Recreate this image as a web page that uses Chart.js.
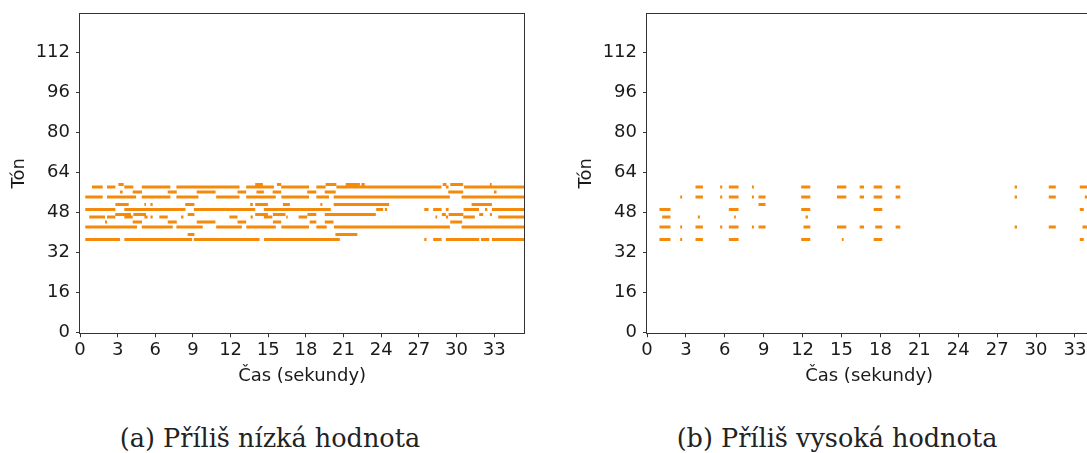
<!DOCTYPE html>
<html>
<head>
<meta charset="utf-8">
<script src="https://cdn.jsdelivr.net/npm/chart.js@4.4.0/dist/chart.umd.min.js"></script>
<style>
    html, body { margin: 0; padding: 0; background: #fff; overflow: hidden; }
    body { width: 1087px; height: 453px; position: relative; }
    canvas { position: absolute; top: 0; }
    #rollLow { left: 0; }
    #rollHigh { left: 567px; }
    .caption {
        position: absolute;
        top: 423px;
        font-family: "DejaVu Serif", serif;
        font-size: 25.5px;
        line-height: 30px;
        color: #222;
        white-space: nowrap;
        transform: translateX(-50%);
    }
</style>
</head>
<body>
<canvas id="rollLow" width="545" height="400"></canvas>
<canvas id="rollHigh" width="545" height="400"></canvas>
<div class="caption" style="left: 270px;">(a) Příliš nízká hodnota</div>
<div class="caption" style="left: 837px;">(b) Příliš vysoká hodnota</div>

<script>
// Piano roll data: one row per pitch, each row is a list of [start, end] in seconds
const pitches = [59, 58, 56, 54, 51, 49, 47, 46, 44, 42, 39, 37];

const lowNotes = [
    [[3.06,3.48],[13.96,14.57],[15.69,16.03],[19.57,20.43],[21.17,22.3],[22.42,22.69],[28.9,29.2],[29.5,30.53],[32.66,32.8]],
    [[0.95,1.81],[2.15,2.82],[3.53,4.25],[4.92,7.2],[7.68,12.71],[13.24,15.45],[16.03,18.25],[18.83,19.57],[20.43,28.8],[29.15,29.37],[30.6,35.4]],
    [[3.19,3.4],[4.2,4.94],[6.99,7.71],[9.3,10.8],[12.55,13.24],[14.06,14.65],[15.35,16.03],[18.1,18.83],[19.5,20.37],[29.34,30.53],[32.98,33.19]],
    [[0.42,1.81],[2.15,4.47],[4.92,7.2],[7.68,9.44],[10.85,12.71],[13.24,15.6],[16.04,18.25],[18.83,19.84],[20.21,29.47],[30.4,35.4]],
    [[2.82,3.88],[5.13,5.26],[5.61,5.79],[8.38,9.12],[13.56,13.77],[13.96,14.97],[16.17,16.72],[19.15,19.31],[20.21,24.63],[31.2,32.82]],
    [[0.42,2.82],[3.53,8.4],[9.07,13.96],[14.65,19.98],[23.6,24.15],[24.29,24.47],[27.43,27.77],[28.14,28.81],[29.15,29.37],[30.56,31.79],[32.27,32.45],[32.82,35.4]],
    [[2.81,4.06],[4.25,5.26],[8.58,9.12],[13.96,14.97],[15.37,16.37],[18.12,18.83],[19.5,23.57],[28.83,29.15],[29.37,30.54],[31.81,32.13],[32.66,32.82]],
    [[0.74,1.99],[2.15,2.81],[3.53,4.2],[5.13,5.39],[5.61,5.79],[6.32,6.99],[8.05,8.24],[11.9,12.55],[13.59,13.77],[14.65,15.32],[16.43,16.55],[17.42,18.1],[28.32,28.46],[29.15,29.33],[30.54,31.46],[33.32,35.4]],
    [[1.99,2.15],[4.2,4.94],[6.99,7.71],[9.3,10.79],[12.55,13.24],[15.37,16.03],[18.3,18.83],[19.5,20.2],[29.5,30.45]],
    [[0.42,4.54],[4.92,7.39],[7.68,9.78],[10.85,12.9],[13.25,15.6],[16.04,18.25],[18.83,19.66],[20.24,29.47],[30.4,35.4]],
    [[8.58,9.12],[20.35,22.1]],
    [[0.42,3.19],[3.53,8.93],[9.07,14.31],[14.66,20.7],[27.43,27.61],[28.14,28.81],[29.15,31.81],[31.95,32.61],[32.82,35.4]]
];

const highNotes = [
    [],
    [[3.74,4.31],[5.64,5.8],[6.31,7.06],[8.09,8.24],[11.89,12.59],[14.65,15.37],[16.4,16.73],[17.48,18.14],[19.17,19.53],[28.35,28.53],[30.98,31.52],[33.37,34.0]],
    [],
    [[2.56,2.71],[3.74,4.31],[5.64,5.8],[6.31,7.06],[8.09,8.24],[8.6,9.14],[11.89,12.59],[14.65,15.37],[16.4,16.73],[17.48,18.14],[19.17,19.53],[28.35,28.53],[30.98,31.52],[33.76,34.0]],
    [[8.6,9.14]],
    [[0.96,1.81],[6.31,7.06],[11.89,12.59],[17.48,18.14],[33.37,33.68]],
    [],
    [[1.17,1.81],[3.92,4.08],[6.72,6.85],[12.23,12.41]],
    [],
    [[0.96,1.81],[2.56,2.71],[3.74,4.31],[5.64,5.8],[6.31,7.06],[8.09,8.24],[8.6,9.14],[12.07,12.59],[14.65,15.37],[16.4,16.73],[17.6,18.14],[19.17,19.53],[28.35,28.53],[30.98,31.52],[33.58,34.0]],
    [],
    [[0.96,1.81],[2.56,2.71],[3.74,4.31],[6.31,7.06],[11.89,12.59],[15.03,15.16],[17.48,18.14],[33.37,33.68]]
];

const xTicks = [0, 3, 6, 9, 12, 15, 18, 21, 24, 27, 30, 33];
const yTicks = [0, 16, 32, 48, 64, 80, 96, 112];

const NOTE_COLOR = '#f5890a';
const TEXT_COLOR = '#1a1a1a';
const FONT = { family: 'DejaVu Sans', size: 18 };

// matplotlib-like box around the axes
const framePlugin = {
    id: 'frame',
    afterDraw(chart) {
        const { ctx, chartArea: a } = chart;
        ctx.save();
        ctx.strokeStyle = '#333';
        ctx.lineWidth = 1;
        ctx.strokeRect(Math.round(a.left) - 0.5, Math.round(a.top) + 0.5,
            Math.round(a.right - a.left) + 1, Math.round(a.bottom - a.top));
        ctx.restore();
    }
};

function buildDatasets(notes) {
    return pitches.map((p, i) => {
        const pts = [];
        notes[i].forEach(([s, e]) => {
            pts.push({ x: s, y: p }, { x: e, y: p }, { x: e, y: null });
        });
        return {
            data: pts,
            borderColor: NOTE_COLOR,
            borderWidth: 3,
            borderCapStyle: 'butt',
            pointRadius: 0,
            spanGaps: false,
            tension: 0
        };
    });
}

function makeRoll(canvasId, notes, xMax) {
    const ctx = document.getElementById(canvasId);
    return new Chart(ctx, {
        type: 'line',
        data: { datasets: buildDatasets(notes) },
        options: {
            responsive: false,
            animation: false,
            events: [],
            layout: { padding: { left: 0, top: 13.3, right: 20.7, bottom: 0 } },
            plugins: { legend: { display: false }, tooltip: { enabled: false } },
            scales: {
                x: {
                    type: 'linear',
                    min: 0,
                    max: xMax,
                    afterBuildTicks: (scale) => { scale.ticks = xTicks.map(v => ({ value: v })); },
                    afterFit: (scale) => {
                        scale.height = 66.7;
                        scale.paddingLeft = 0;
                        scale.paddingRight = 0;
                    },
                    border: { display: false },
                    grid: { drawOnChartArea: false, drawTicks: true, tickLength: 4, color: '#333' },
                    ticks: { color: TEXT_COLOR, font: FONT, padding: 2, maxRotation: 0, autoSkip: false },
                    title: { display: true, text: 'Čas (sekundy)', color: TEXT_COLOR, font: FONT, padding: { top: 0, bottom: 13 } }
                },
                y: {
                    type: 'linear',
                    min: -0.5,
                    max: 127.5,
                    afterBuildTicks: (scale) => { scale.ticks = yTicks.map(v => ({ value: v })); },
                    afterFit: (scale) => {
                        scale.width = 80;
                        scale.paddingTop = 0;
                        scale.paddingBottom = 0;
                    },
                    border: { display: false },
                    grid: { drawOnChartArea: false, drawTicks: true, tickLength: 4, color: '#333' },
                    ticks: { color: TEXT_COLOR, font: FONT, padding: 6, autoSkip: false },
                    title: { display: true, text: 'Tón', color: TEXT_COLOR, font: FONT, padding: { top: 9, bottom: 0 } }
                }
            }
        },
        plugins: [framePlugin]
    });
}

if (typeof Chart !== 'undefined') {
    makeRoll('rollLow', lowNotes, 35.4);
    makeRoll('rollHigh', highNotes, 34.26);
} else {
    console.error('Chart.js not available');
}
</script>
</body>
</html>
